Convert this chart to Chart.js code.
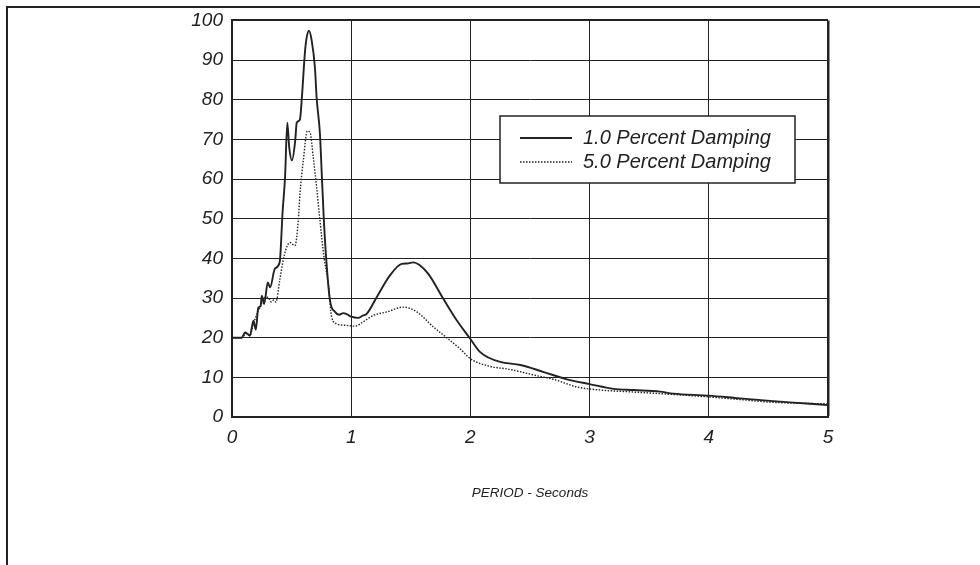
<!DOCTYPE html>
<html>
<head>
<meta charset="utf-8">
<script src="https://cdn.jsdelivr.net/npm/chart.js@4.4.1/dist/chart.umd.min.js"></script>
<style>
  body { margin: 0; background: #fff; }
  #wrap { position: relative; width: 980px; height: 565px; }
  #frame { position: absolute; left: 6px; top: 6px; right: 0; bottom: 0; border-left: 2px solid #222; border-top: 2px solid #222; pointer-events: none; }
  canvas { position: absolute; left: 0; top: 0; }
</style>
</head>
<body>
<div id="wrap">
  <canvas id="myChart" width="980" height="565"></canvas>
  <div id="frame"></div>
</div>
<script>
// period (s) and spectral value
const period_1 = [0, 0.08, 0.11, 0.13, 0.15, 0.18, 0.20, 0.22, 0.24, 0.25, 0.27, 0.30, 0.32, 0.36, 0.40, 0.425, 0.445, 0.464, 0.48, 0.503, 0.53, 0.543, 0.57, 0.585, 0.612, 0.626, 0.646, 0.668, 0.696, 0.71, 0.738, 0.752, 0.77, 0.79, 0.822, 0.864, 0.90, 0.934, 0.97, 1.0, 1.057, 1.10, 1.13, 1.214, 1.325, 1.424, 1.47, 1.52, 1.57, 1.647, 1.773, 1.885, 1.997, 2.08, 2.15, 2.25, 2.42, 2.61, 2.81, 3.0, 3.2, 3.37, 3.59, 3.70, 4.0, 4.26, 4.54, 4.82, 5.0]
const damping_1 = [20, 20, 21.3, 21, 20.5, 24.3, 22, 27.5, 28, 30.6, 28.5, 33.9, 32.7, 37.4, 39, 52, 60.4, 74.2, 68, 64.7, 69.6, 74.2, 75, 80, 92, 95.6, 97.4, 95, 88, 80.5, 71.3, 62, 50, 40, 29.4, 26.5, 25.8, 26.2, 25.8, 25.3, 25, 25.6, 26, 30.2, 35.7, 38.6, 38.7, 39, 38.4, 36.1, 29.8, 24.4, 19.8, 16.4, 15, 13.9, 13.1, 11.4, 9.5, 8.3, 7.1, 6.8, 6.4, 5.9, 5.4, 4.7, 4.0, 3.4, 3.0]

const period_5 = [0, 0.08, 0.12, 0.15, 0.18, 0.21, 0.24, 0.27, 0.30, 0.33, 0.35, 0.369, 0.40, 0.44, 0.487, 0.51, 0.528, 0.556, 0.57, 0.598, 0.632, 0.655, 0.682, 0.71, 0.738, 0.772, 0.808, 0.836, 0.878, 0.962, 1.03, 1.10, 1.185, 1.30, 1.437, 1.55, 1.69, 1.83, 1.91, 1.98, 2.02, 2.16, 2.33, 2.53, 2.72, 2.89, 3.09, 3.31, 3.59, 3.98, 4.26, 4.54, 5.0]
const damping_5 = [20, 20, 21, 20.5, 23.5, 26, 28, 30, 30.2, 29, 29.5, 29, 34.4, 41, 44, 43.5, 43.2, 49.5, 56.2, 64.6, 72.1, 71.7, 65.4, 57.9, 49.5, 40.3, 33.6, 25.2, 23.5, 23.1, 22.9, 24, 25.6, 26.5, 27.7, 26.5, 22.7, 19.3, 17.3, 15.2, 14.3, 12.8, 12, 10.6, 9.3, 7.6, 6.8, 6.4, 5.9, 5.1, 4.4, 3.7, 3.3]

const labels = ['1.0 Percent Damping', '5.0 Percent Damping']
const x_title = 'PERIOD - Seconds'

const ink = '#222'
const fontFamily = '"Liberation Sans", Arial, sans-serif'

const toPoints = (xs, ys) => xs.map((x, i) => ({x: x, y: ys[i]}))

// legend box drawn inside the plot, text taken from the datasets
const boxLegend = {
    id: 'boxLegend',
    afterDraw(chart) {
        const c = chart.ctx
        const left = 500, top = 116, w = 295, h = 67
        c.save()
        c.fillStyle = '#fff'
        c.fillRect(left, top, w, h)
        c.strokeStyle = ink
        c.lineWidth = 1.5
        c.strokeRect(left, top, w, h)
        c.font = 'italic 20px ' + fontFamily
        c.textBaseline = 'middle'
        chart.data.datasets.forEach((ds, i) => {
            const y = top + 22 + i * 24
            c.beginPath()
            c.setLineDash(ds.borderDash || [])
            c.lineWidth = ds.borderWidth
            c.strokeStyle = ink
            c.moveTo(520, y)
            c.lineTo(572, y)
            c.stroke()
            c.setLineDash([])
            c.fillStyle = ink
            c.fillText(ds.label, 583, y)
        })
        c.restore()
    }
}

const ctx = document.getElementById('myChart')
new Chart(ctx, {
    type: 'line',
    data: {
        datasets: [{
            label: labels[0],
            data: toPoints(period_1, damping_1),
            borderColor: ink,
            borderWidth: 1.9,
            pointRadius: 0,
            cubicInterpolationMode: 'monotone'
        }, {
            label: labels[1],
            data: toPoints(period_5, damping_5),
            borderColor: ink,
            borderWidth: 1.4,
            borderDash: [1.5, 1.5],
            pointRadius: 0,
            cubicInterpolationMode: 'monotone'
        }]
    },
    options: {
        responsive: false,
        animation: false,
        layout: {
            padding: {left: 0, top: 19, right: 152, bottom: 0}
        },
        scales: {
            x: {
                type: 'linear',
                min: 0,
                max: 5,
                afterFit: (s) => { s.height = 148 },
                border: {color: ink, width: 2},
                grid: {
                    color: ink,
                    lineWidth: (c) => c.tick && c.tick.value === 5 ? 2.5 : 1,
                    drawTicks: false
                },
                ticks: {
                    stepSize: 1,
                    padding: 9,
                    color: ink,
                    font: {family: fontFamily, size: 19, style: 'italic'}
                },
                title: {
                    display: true,
                    text: x_title,
                    color: ink,
                    font: {family: fontFamily, size: 13.5, style: 'italic'},
                    padding: {bottom: 64}
                }
            },
            y: {
                min: 0,
                max: 100,
                afterFit: (s) => { s.width = 232 },
                border: {color: ink, width: 2},
                grid: {
                    color: ink,
                    lineWidth: (c) => c.tick && c.tick.value === 100 ? 2 : 1,
                    drawTicks: false
                },
                ticks: {
                    stepSize: 10,
                    padding: 9,
                    color: ink,
                    font: {family: fontFamily, size: 19, style: 'italic'}
                }
            }
        },
        plugins: {
            legend: {display: false},
            tooltip: {enabled: false}
        }
    },
    plugins: [boxLegend]
})
</script>
</body>
</html>
